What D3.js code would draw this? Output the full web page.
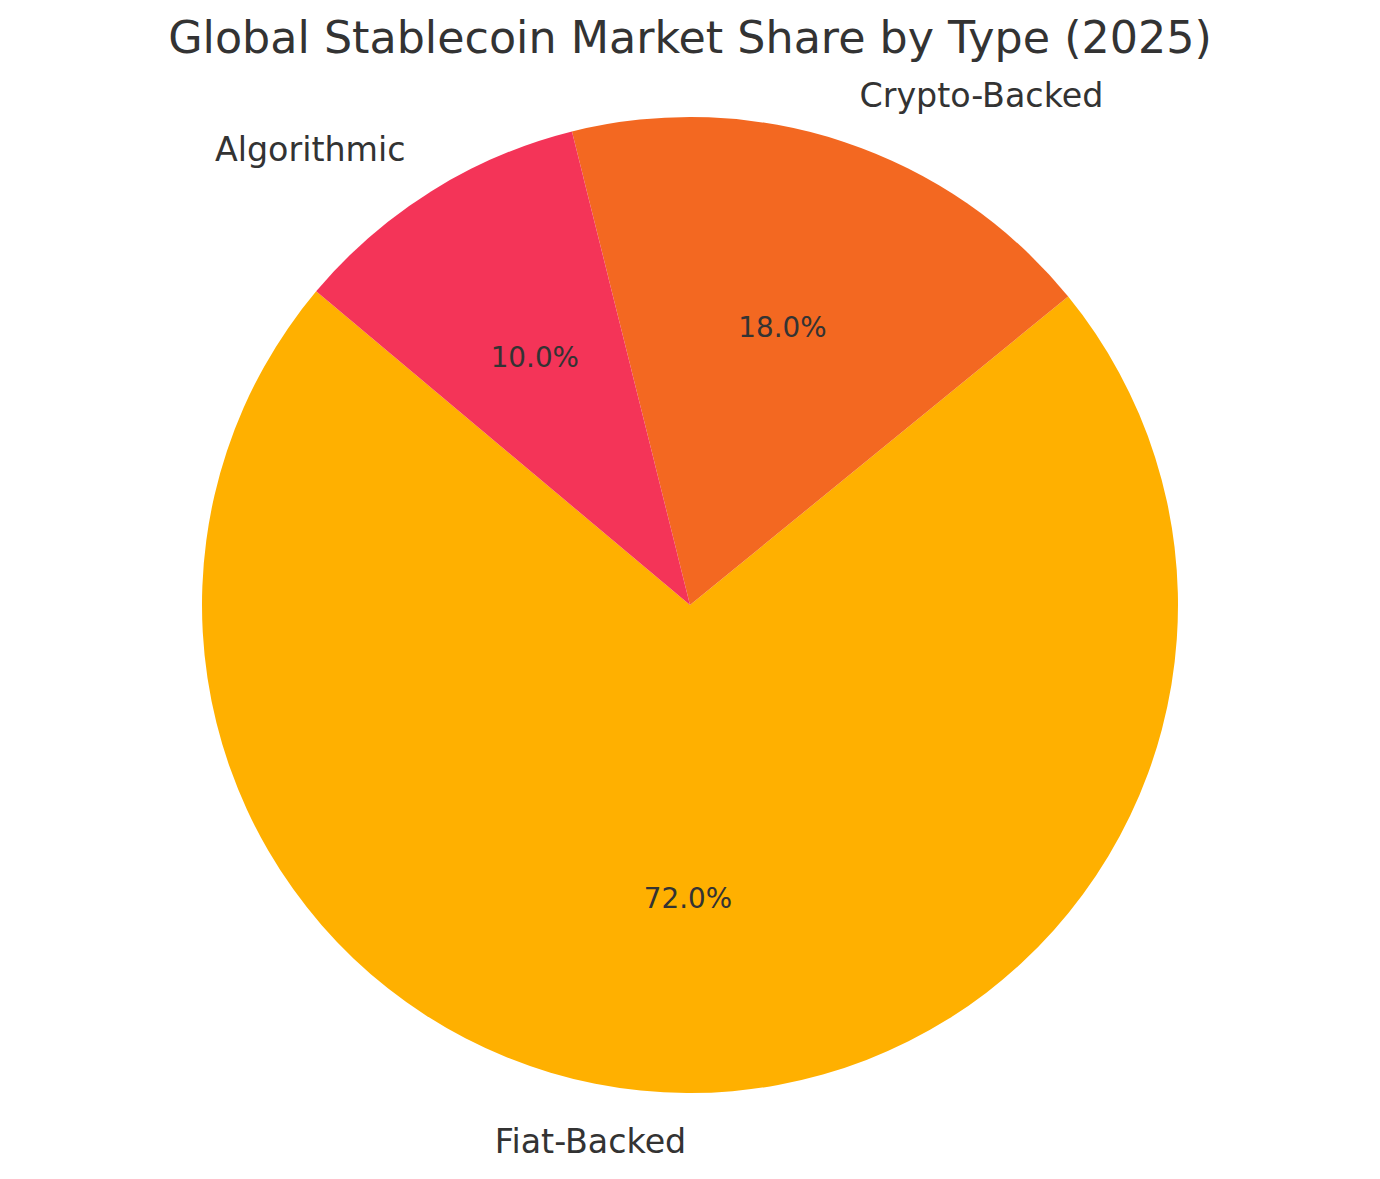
<!DOCTYPE html>
<html>
<head>
<meta charset="utf-8">
<script src="https://cdn.jsdelivr.net/npm/d3@7"></script>
<style>
  html, body { margin: 0; padding: 0; background: #ffffff; }
  svg { display: block; }
</style>
</head>
<body>
<svg id="chart" width="1380" height="1179"></svg>
<script>
const categories = ["Fiat-Backed", "Crypto-Backed", "Algorithmic"];
const shares = [72.0, 18.0, 10.0];
const colors = ["#FFB000", "#F36821", "#F43458"];
const title = "Global Stablecoin Market Share by Type (2025)";

const W = 1380, H = 1179;
const cx = 690, cy = 605, R = 488;
const startDeg = 140; // matplotlib startangle, counterclockwise from +x

const svg = d3.select("#chart");
svg.append("text")
  .attr("x", W / 2).attr("y", 53)
  .attr("text-anchor", "middle")
  .attr("font-family", "DejaVu Sans")
  .attr("font-size", 44.4)
  .attr("fill", "#333333")
  .text(title);

const data = categories.map((c, i) => ({ name: c, value: shares[i], color: colors[i] }));
const a0 = (90 - startDeg) * Math.PI / 180;
const pie = d3.pie().sort(null).value(d => d.value)
  .startAngle(a0).endAngle(a0 - 2 * Math.PI);
const arcs = pie(data);
const arc = d3.arc().innerRadius(0).outerRadius(R);

const g = svg.append("g").attr("transform", `translate(${cx},${cy})`);
g.selectAll("path.slice").data(arcs).join("path")
  .attr("class", "slice")
  .attr("d", arc)
  .attr("fill", d => d.data.color);

function pos(d, rr) {
  const m = (d.startAngle + d.endAngle) / 2;
  return [rr * Math.sin(m), -rr * Math.cos(m)];
}

g.selectAll("text.lbl").data(arcs).join("text")
  .attr("class", "lbl")
  .each(function(d) {
    const [x, y] = pos(d, R * 1.1);
    d3.select(this)
      .attr("x", x).attr("y", y + 11.4)
      .attr("text-anchor", x < 0 ? "end" : "start");
  })
  .attr("font-family", "DejaVu Sans")
  .attr("font-size", 33.3)
  .attr("fill", "#333333")
  .text(d => d.data.name);

g.selectAll("text.pct").data(arcs).join("text")
  .attr("class", "pct")
  .each(function(d) {
    const [x, y] = pos(d, R * 0.6);
    d3.select(this).attr("x", x).attr("y", y + 9.8);
  })
  .attr("text-anchor", "middle")
  .attr("font-family", "DejaVu Sans")
  .attr("font-size", 27.8)
  .attr("fill", "#333333")
  .text(d => d3.format(".1f")(d.data.value) + "%");
</script>
</body>
</html>
